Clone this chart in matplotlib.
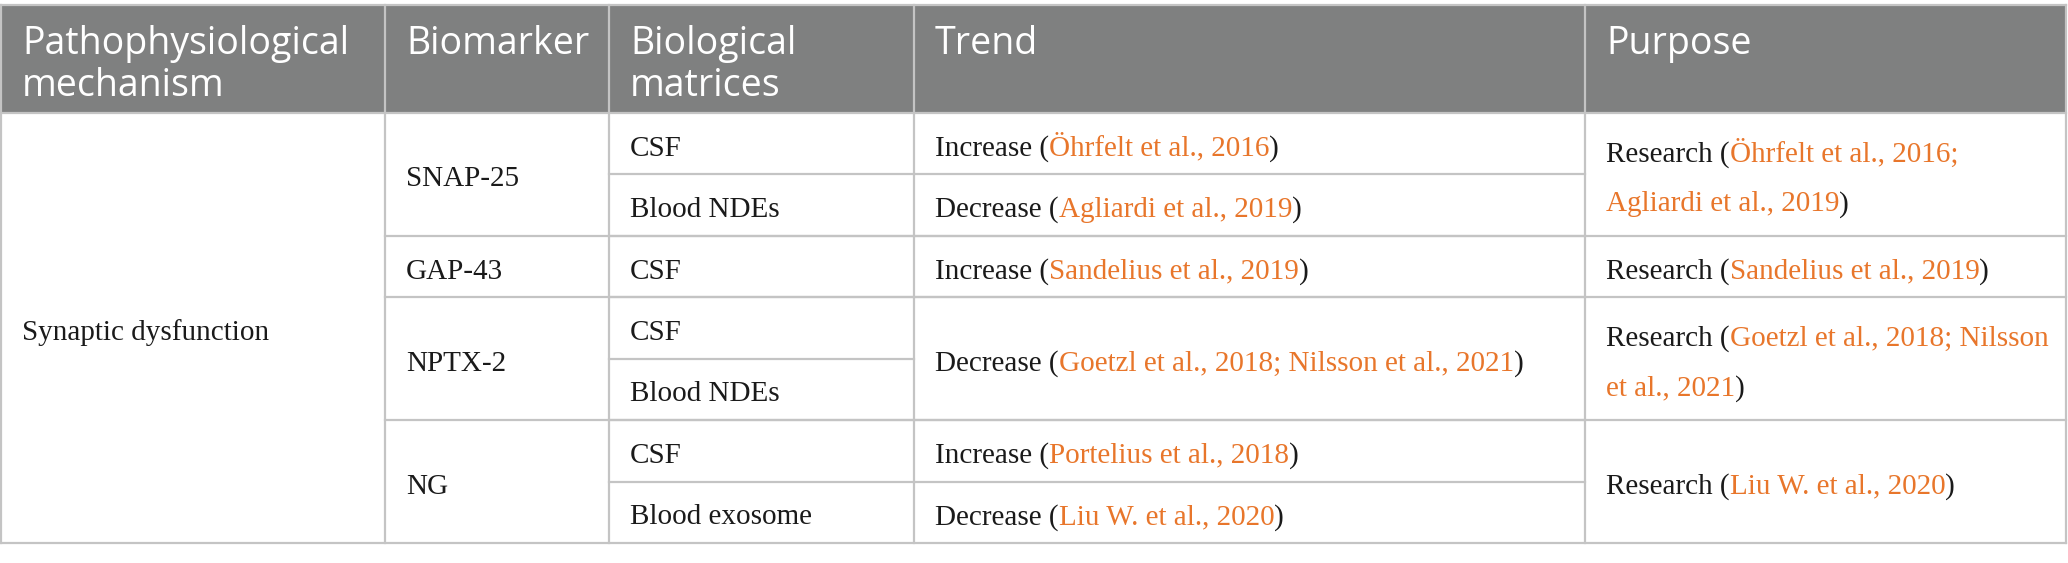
import matplotlib
matplotlib.use("Agg")
import matplotlib.pyplot as plt
from matplotlib.patches import Rectangle

# table content
headers = ["Pathophysiological\nmechanism", "Biomarker", "Biological\nmatrices", "Trend", "Purpose"]
mechanism = "Synaptic dysfunction"
biomarkers = ["SNAP-25", "GAP-43", "NPTX-2", "NG"]
biomarker_spans = [2, 1, 2, 2]
matrices = ["CSF", "Blood NDEs", "CSF", "CSF", "Blood NDEs", "CSF", "Blood exosome"]
trend_words = ["Increase", "Decrease", "Increase", "Decrease", "Increase", "Decrease"]
trend_refs = ["Öhrfelt et al., 2016", "Agliardi et al., 2019", "Sandelius et al., 2019",
              "Goetzl et al., 2018; Nilsson et al., 2021", "Portelius et al., 2018",
              "Liu W. et al., 2020"]
trend_spans = [1, 1, 1, 2, 1, 1]
purpose_words = ["Research", "Research", "Research", "Research"]
purpose_refs = ["Öhrfelt et al., 2016;\nAgliardi et al., 2019", "Sandelius et al., 2019",
                "Goetzl et al., 2018; Nilsson\net al., 2021", "Liu W. et al., 2020"]
purpose_spans = [2, 1, 2, 2]

# layout (pixels)
W, H = 2068, 563
col_x = [1, 385, 609, 914, 1585, 2066]
top, head_bot, bottom = 5, 113, 543
n_sub = len(matrices)
row_h = (bottom - head_bot) / n_sub
pad = 21
grid_c = "#c4c4c4"
head_c = "#7f8080"
ref_c = "#e8762b"
txt_c = "#1a1a1a"
serif = "Liberation Serif"
sans = "Open Sans"
body_fs = 21
head_fs = 27
line_gap = 50
base_off = 12

fig = plt.figure(figsize=(W / 100, H / 100), dpi=100)
ax = fig.add_axes([0, 0, 1, 1])
ax.set_xlim(0, W)
ax.set_ylim(H, 0)
ax.axis("off")
renderer = fig.canvas.get_renderer()


def draw_runs(x, yc, runs):
    # runs: list of (text, color); '\n' inside text starts a new line
    lines = [[]]
    for s, c in runs:
        parts = s.split("\n")
        for i, p in enumerate(parts):
            if i > 0:
                lines.append([])
            if p:
                lines[-1].append((p, c))
    n = len(lines)
    y0 = yc - (n - 1) * line_gap / 2 + base_off
    for k, line in enumerate(lines):
        cx = x
        for s, c in line:
            t = ax.text(cx, y0 + k * line_gap, s, color=c, fontsize=body_fs,
                        family=serif, va="baseline", ha="left")
            bb = t.get_window_extent(renderer)
            cx += bb.width


def sub_y(i):
    return head_bot + i * row_h


# header
ax.add_patch(Rectangle((col_x[0], top), col_x[-1] - col_x[0], head_bot - top,
                       facecolor=head_c, edgecolor="none"))
for j, h in enumerate(headers):
    for k, line in enumerate(h.split("\n")):
        ax.text(col_x[j] + pad, 54 + k * 42, line, color="white", fontsize=head_fs,
                family=sans, va="baseline", ha="left")

# mechanism column
draw_runs(col_x[0] + pad, (head_bot + bottom) / 2, [(mechanism, txt_c)])

# biomarker column
i = 0
for b, s in zip(biomarkers, biomarker_spans):
    draw_runs(col_x[1] + pad, (sub_y(i) + sub_y(i + s)) / 2, [(b, txt_c)])
    i += s
    if i < n_sub:
        ax.plot([col_x[1], col_x[-1]], [sub_y(i), sub_y(i)], color=grid_c, lw=1.6)

# matrices column
for i, m in enumerate(matrices):
    draw_runs(col_x[2] + pad, (sub_y(i) + sub_y(i + 1)) / 2, [(m, txt_c)])
    if i + 1 < n_sub:
        ax.plot([col_x[2], col_x[3]], [sub_y(i + 1), sub_y(i + 1)], color=grid_c, lw=1.6)

# trend column
i = 0
for w, r, s in zip(trend_words, trend_refs, trend_spans):
    draw_runs(col_x[3] + pad, (sub_y(i) + sub_y(i + s)) / 2,
              [(w + " (", txt_c), (r, ref_c), (")", txt_c)])
    i += s
    if i < n_sub:
        ax.plot([col_x[3], col_x[4]], [sub_y(i), sub_y(i)], color=grid_c, lw=1.6)

# purpose column
i = 0
for w, r, s in zip(purpose_words, purpose_refs, purpose_spans):
    draw_runs(col_x[4] + pad, (sub_y(i) + sub_y(i + s)) / 2,
              [(w + " (", txt_c), (r, ref_c), (")", txt_c)])
    i += s

# grid
for x in col_x:
    ax.plot([x, x], [top, bottom], color=grid_c, lw=1.6)
for y in [top, head_bot, bottom]:
    ax.plot([col_x[0], col_x[-1]], [y, y], color=grid_c, lw=1.6)

fig.savefig("out.png", dpi=100)
